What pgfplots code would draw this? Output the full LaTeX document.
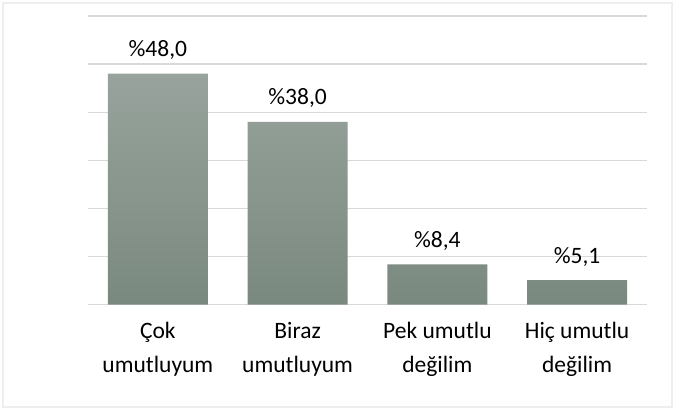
\documentclass[border=0pt]{standalone}
\usepackage{pgfplots}
\pgfplotsset{compat=1.18}
\usepackage{fontspec}
\setmainfont{Carlito}
\definecolor{gridc}{HTML}{D9D9D9}
\definecolor{framec}{HTML}{EEEEEE}
\definecolor{bartop}{HTML}{97A39C}
\definecolor{barbot}{HTML}{7A897F}
\begin{document}
\begin{tikzpicture}
\begin{axis}[
  name=ax,
  scale only axis,
  width=559pt, height=288.7pt,
  xmin=-0.5, xmax=3.5,
  ymin=0, ymax=60,
  enlarge x limits=false, enlarge y limits=false,
  axis line style={draw=none},
  ytick={0,10,...,60}, yticklabels={},
  ymajorgrids,
  major grid style={color=gridc, line width=1.3pt},
  major tick length=0pt,
  xtick={0,1,2,3},
  xticklabels={{Çok\\[6pt]umutluyum},{Biraz\\[6pt]umutluyum},{Pek umutlu\\[6pt]değilim},{Hiç umutlu\\[6pt]değilim}},
  xticklabel style={align=center, font=\fontsize{23.5}{27.7}\selectfont, anchor=north, yshift=-14pt},
  tick style={draw=none},
  ybar, bar width=100pt,
  nodes near coords={\%\pgfmathprintnumber[fixed, fixed zerofill, precision=1, use comma, assume math mode=true]{\pgfplotspointmeta}},
  every node near coord/.append style={font=\fontsize{23.5}{28}\selectfont, anchor=base, yshift=17pt, inner sep=0pt},
  clip=false,
]
\addplot[draw=none, top color=bartop, bottom color=barbot] coordinates {(0,48.0) (1,38.0) (2,8.4) (3,5.1)};
\end{axis}
\draw[framec, line width=1.3pt] ([xshift=-85pt,yshift=-102.3pt]ax.south west) rectangle ([xshift=25pt,yshift=13pt]ax.north east);
\useasboundingbox ([xshift=-88pt,yshift=-105.3pt]ax.south west) rectangle ([xshift=28pt,yshift=16pt]ax.north east);
\end{tikzpicture}
\end{document}
